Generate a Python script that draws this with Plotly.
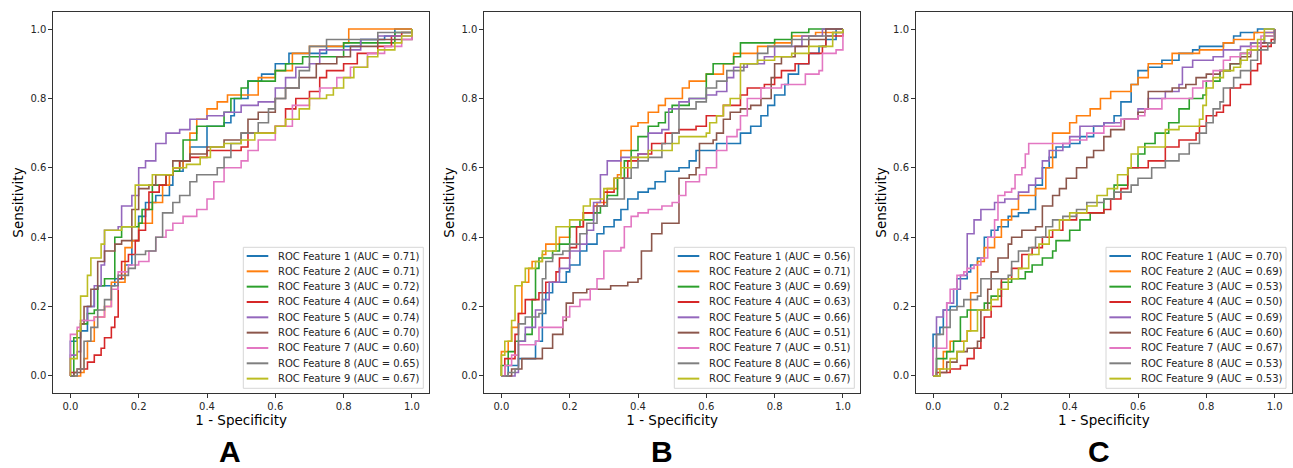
import plotly.graph_objects as go

# ---------------- data ----------------
FEATURES = [f"ROC Feature {i}" for i in range(1, 10)]
COLORS = ["#1f77b4", "#ff7f0e", "#2ca02c", "#d62728", "#9467bd",
          "#8c564b", "#e377c2", "#7f7f7f", "#bcbd22"]
PANELS = ["A", "B", "C"]
TICKS = [0.0, 0.2, 0.4, 0.6, 0.8, 1.0]
TICK_TEXT = ["0.0", "0.2", "0.4", "0.6", "0.8", "1.0"]

AUC_A = [0.71, 0.71, 0.72, 0.64, 0.74, 0.70, 0.60, 0.65, 0.67]
AUC_B = [0.56, 0.71, 0.69, 0.63, 0.66, 0.51, 0.51, 0.66, 0.67]
AUC_C = [0.70, 0.69, 0.53, 0.50, 0.69, 0.60, 0.67, 0.53, 0.53]

# Panel A
A1_fpr = [0, 0, 0.02, 0.05, 0.07, 0.08, 0.13, 0.16, 0.18, 0.2, 0.22, 0.25, 0.29, 0.3, 0.33, 0.35, 0.4, 0.45, 0.47, 0.48, 0.52, 0.56, 0.6, 0.64, 0.7, 0.75, 0.85, 0.92, 0.95, 1]
A1_tpr = [0, 0.1, 0.13, 0.2, 0.25, 0.26, 0.28, 0.32, 0.39, 0.46, 0.5, 0.52, 0.55, 0.59, 0.62, 0.66, 0.72, 0.73, 0.75, 0.8, 0.85, 0.87, 0.9, 0.93, 0.93, 0.95, 0.97, 0.98, 1.0, 1]
A2_fpr = [0, 0.03, 0.04, 0.05, 0.07, 0.1, 0.12, 0.16, 0.18, 0.2, 0.24, 0.27, 0.29, 0.3, 0.33, 0.35, 0.37, 0.4, 0.43, 0.46, 0.5, 0.55, 0.6, 0.65, 0.7, 0.8, 0.815, 1]
A2_tpr = [0, 0.01, 0.05, 0.1, 0.17, 0.2, 0.27, 0.37, 0.39, 0.44, 0.5, 0.55, 0.58, 0.6, 0.62, 0.7, 0.74, 0.77, 0.79, 0.81, 0.81, 0.86, 0.88, 0.93, 0.95, 0.96, 1.0, 1]
A3_fpr = [0, 0.01, 0.03, 0.05, 0.07, 0.08, 0.1, 0.13, 0.15, 0.2, 0.21, 0.24, 0.28, 0.3, 0.32, 0.33, 0.37, 0.45, 0.47, 0.5, 0.52, 0.6, 0.63, 0.68, 0.8, 0.95, 1]
A3_tpr = [0, 0.11, 0.15, 0.18, 0.19, 0.26, 0.28, 0.4, 0.43, 0.44, 0.48, 0.55, 0.58, 0.59, 0.62, 0.68, 0.72, 0.76, 0.8, 0.83, 0.85, 0.88, 0.9, 0.92, 0.96, 0.99, 1]
A4_fpr = [0, 0, 0.02, 0.05, 0.07, 0.09, 0.1, 0.12, 0.13, 0.14, 0.15, 0.17, 0.19, 0.2, 0.22, 0.23, 0.26, 0.28, 0.3, 0.32, 0.35, 0.4, 0.5, 0.52, 0.6, 0.63, 0.66, 0.7, 0.73, 0.75, 0.8, 0.84, 0.9, 0.94, 0.97, 1]
A4_tpr = [0, 0.01, 0.02, 0.04, 0.06, 0.08, 0.11, 0.14, 0.17, 0.28, 0.33, 0.35, 0.39, 0.42, 0.48, 0.53, 0.55, 0.58, 0.6, 0.62, 0.63, 0.65, 0.66, 0.7, 0.72, 0.77, 0.8, 0.82, 0.86, 0.88, 0.9, 0.93, 0.95, 0.98, 0.99, 1]
A5_fpr = [0, 0, 0.02, 0.03, 0.05, 0.07, 0.09, 0.1, 0.14, 0.15, 0.18, 0.2, 0.22, 0.25, 0.28, 0.32, 0.35, 0.4, 0.45, 0.5, 0.55, 0.6, 0.63, 0.66, 0.7, 0.73, 0.85, 0.9, 1]
A5_tpr = [0, 0.06, 0.07, 0.16, 0.2, 0.26, 0.32, 0.42, 0.43, 0.49, 0.52, 0.6, 0.62, 0.67, 0.7, 0.71, 0.74, 0.75, 0.76, 0.78, 0.79, 0.83, 0.86, 0.89, 0.9, 0.94, 0.97, 0.98, 1]
A6_fpr = [0, 0.01, 0.03, 0.04, 0.06, 0.08, 0.1, 0.13, 0.15, 0.18, 0.2, 0.23, 0.25, 0.3, 0.35, 0.4, 0.45, 0.5, 0.52, 0.55, 0.6, 0.63, 0.67, 0.72, 0.78, 0.82, 0.9, 1]
A6_tpr = [0, 0.01, 0.15, 0.2, 0.25, 0.33, 0.36, 0.38, 0.39, 0.48, 0.54, 0.55, 0.58, 0.62, 0.64, 0.66, 0.68, 0.7, 0.74, 0.76, 0.8, 0.83, 0.86, 0.9, 0.92, 0.95, 0.97, 1]
A7_fpr = [0, 0, 0.02, 0.03, 0.07, 0.1, 0.12, 0.14, 0.17, 0.2, 0.23, 0.25, 0.28, 0.3, 0.33, 0.37, 0.4, 0.42, 0.45, 0.5, 0.52, 0.55, 0.6, 0.65, 0.7, 0.73, 0.78, 0.82, 0.87, 0.92, 0.97, 1]
A7_tpr = [0, 0.12, 0.14, 0.16, 0.17, 0.2, 0.25, 0.3, 0.32, 0.33, 0.36, 0.4, 0.42, 0.44, 0.46, 0.48, 0.51, 0.56, 0.6, 0.62, 0.65, 0.68, 0.72, 0.78, 0.8, 0.83, 0.86, 0.89, 0.93, 0.95, 0.97, 1]
A8_fpr = [0, 0.02, 0.04, 0.06, 0.08, 0.1, 0.12, 0.14, 0.17, 0.19, 0.22, 0.25, 0.27, 0.3, 0.32, 0.35, 0.37, 0.43, 0.45, 0.47, 0.5, 0.55, 0.58, 0.6, 0.63, 0.67, 0.7, 0.75, 0.9, 1]
A8_tpr = [0, 0.02, 0.1, 0.14, 0.19, 0.22, 0.26, 0.29, 0.31, 0.35, 0.36, 0.4, 0.47, 0.5, 0.52, 0.56, 0.58, 0.6, 0.63, 0.67, 0.7, 0.73, 0.77, 0.8, 0.83, 0.88, 0.95, 0.97, 0.99, 1]
A9_fpr = [0, 0, 0.02, 0.03, 0.05, 0.06, 0.09, 0.1, 0.15, 0.19, 0.24, 0.3, 0.34, 0.38, 0.41, 0.45, 0.5, 0.54, 0.6, 0.63, 0.67, 0.7, 0.75, 0.77, 0.8, 0.83, 0.87, 0.9, 0.95, 0.97, 1]
A9_tpr = [0, 0.05, 0.13, 0.23, 0.29, 0.34, 0.38, 0.42, 0.43, 0.55, 0.58, 0.6, 0.61, 0.63, 0.66, 0.67, 0.68, 0.7, 0.72, 0.74, 0.77, 0.8, 0.81, 0.83, 0.86, 0.89, 0.92, 0.94, 0.96, 0.98, 1]

# Panel B
B1_fpr = [0, 0.02, 0.05, 0.09, 0.1, 0.12, 0.13, 0.15, 0.19, 0.2, 0.23, 0.25, 0.28, 0.3, 0.33, 0.35, 0.37, 0.4, 0.43, 0.45, 0.48, 0.52, 0.55, 0.57, 0.6, 0.63, 0.68, 0.7, 0.73, 0.76, 0.78, 0.8, 0.83, 0.84, 0.87, 0.9, 0.93, 0.95, 0.98, 1]
B1_tpr = [0, 0.03, 0.05, 0.05, 0.1, 0.18, 0.24, 0.27, 0.3, 0.32, 0.36, 0.38, 0.41, 0.43, 0.45, 0.48, 0.51, 0.53, 0.54, 0.56, 0.59, 0.6, 0.62, 0.65, 0.65, 0.67, 0.67, 0.7, 0.72, 0.75, 0.78, 0.81, 0.84, 0.87, 0.9, 0.93, 0.95, 0.97, 1.0, 1]
B2_fpr = [0, 0, 0.02, 0.03, 0.05, 0.06, 0.08, 0.09, 0.12, 0.13, 0.17, 0.2, 0.24, 0.28, 0.31, 0.34, 0.35, 0.38, 0.4, 0.43, 0.46, 0.48, 0.53, 0.55, 0.6, 0.65, 0.68, 0.75, 0.8, 0.85, 0.92, 1]
B2_tpr = [0, 0.07, 0.1, 0.14, 0.18, 0.27, 0.31, 0.33, 0.35, 0.38, 0.4, 0.43, 0.47, 0.5, 0.54, 0.58, 0.65, 0.72, 0.73, 0.76, 0.78, 0.8, 0.83, 0.85, 0.87, 0.9, 0.93, 0.95, 0.96, 0.98, 0.99, 1]
B3_fpr = [0, 0, 0.02, 0.04, 0.07, 0.09, 0.1, 0.11, 0.15, 0.17, 0.2, 0.23, 0.27, 0.29, 0.31, 0.34, 0.36, 0.38, 0.4, 0.43, 0.46, 0.48, 0.5, 0.55, 0.6, 0.62, 0.68, 0.7, 0.8, 0.85, 0.9, 1]
B3_tpr = [0, 0.03, 0.07, 0.1, 0.12, 0.22, 0.31, 0.34, 0.36, 0.38, 0.43, 0.45, 0.47, 0.49, 0.52, 0.57, 0.62, 0.65, 0.69, 0.72, 0.73, 0.76, 0.78, 0.8, 0.87, 0.9, 0.92, 0.96, 0.97, 0.99, 1.0, 1]
B4_fpr = [0, 0.01, 0.04, 0.05, 0.07, 0.11, 0.13, 0.16, 0.17, 0.2, 0.22, 0.24, 0.27, 0.3, 0.33, 0.37, 0.4, 0.44, 0.48, 0.52, 0.57, 0.6, 0.65, 0.7, 0.72, 0.77, 0.8, 0.82, 0.86, 0.9, 0.94, 0.95, 1]
B4_tpr = [0, 0.05, 0.12, 0.18, 0.22, 0.24, 0.27, 0.3, 0.34, 0.37, 0.43, 0.47, 0.49, 0.53, 0.57, 0.62, 0.64, 0.67, 0.7, 0.71, 0.72, 0.75, 0.78, 0.81, 0.83, 0.84, 0.86, 0.88, 0.9, 0.93, 0.95, 0.98, 1]
B5_fpr = [0, 0.04, 0.05, 0.07, 0.1, 0.12, 0.14, 0.17, 0.2, 0.23, 0.25, 0.27, 0.29, 0.31, 0.35, 0.4, 0.43, 0.47, 0.49, 0.52, 0.55, 0.6, 0.63, 0.66, 0.68, 0.72, 0.77, 0.8, 0.88, 0.94, 1]
B5_tpr = [0, 0.01, 0.1, 0.14, 0.19, 0.22, 0.27, 0.31, 0.36, 0.38, 0.42, 0.5, 0.58, 0.62, 0.63, 0.64, 0.7, 0.71, 0.77, 0.79, 0.8, 0.81, 0.82, 0.86, 0.89, 0.9, 0.92, 0.95, 0.98, 1.0, 1]
B6_fpr = [0, 0.03, 0.06, 0.11, 0.12, 0.15, 0.18, 0.19, 0.21, 0.25, 0.32, 0.37, 0.4, 0.41, 0.44, 0.47, 0.51, 0.52, 0.55, 0.57, 0.58, 0.62, 0.63, 0.65, 0.67, 0.7, 0.73, 0.76, 0.79, 0.8, 0.82, 0.86, 0.9, 0.95, 1]
B6_tpr = [0, 0.02, 0.05, 0.05, 0.08, 0.12, 0.16, 0.21, 0.24, 0.25, 0.26, 0.27, 0.28, 0.36, 0.41, 0.44, 0.44, 0.57, 0.58, 0.6, 0.67, 0.68, 0.7, 0.74, 0.76, 0.77, 0.78, 0.8, 0.86, 0.9, 0.92, 0.95, 0.97, 1.0, 1]
B7_fpr = [0, 0.01, 0.03, 0.05, 0.1, 0.11, 0.17, 0.18, 0.2, 0.23, 0.26, 0.28, 0.3, 0.35, 0.36, 0.38, 0.4, 0.43, 0.47, 0.5, 0.52, 0.54, 0.58, 0.6, 0.63, 0.66, 0.69, 0.7, 0.72, 0.76, 0.8, 0.82, 0.88, 0.89, 0.93, 0.94, 0.98, 1]
B7_tpr = [0, 0.03, 0.06, 0.09, 0.1, 0.14, 0.14, 0.17, 0.2, 0.22, 0.25, 0.28, 0.36, 0.37, 0.43, 0.46, 0.47, 0.48, 0.49, 0.5, 0.52, 0.56, 0.58, 0.6, 0.65, 0.69, 0.71, 0.75, 0.8, 0.83, 0.83, 0.84, 0.84, 0.87, 0.88, 0.93, 0.94, 1]
B8_fpr = [0, 0.02, 0.04, 0.05, 0.07, 0.11, 0.12, 0.13, 0.15, 0.18, 0.2, 0.23, 0.25, 0.28, 0.31, 0.36, 0.38, 0.4, 0.43, 0.47, 0.5, 0.52, 0.57, 0.6, 0.63, 0.66, 0.71, 0.75, 0.78, 0.85, 0.9, 0.97, 1]
B8_tpr = [0, 0.01, 0.02, 0.15, 0.17, 0.18, 0.28, 0.33, 0.35, 0.36, 0.38, 0.41, 0.44, 0.49, 0.51, 0.57, 0.6, 0.62, 0.63, 0.67, 0.7, 0.77, 0.79, 0.83, 0.85, 0.88, 0.9, 0.93, 0.95, 0.97, 0.98, 0.99, 1]
B9_fpr = [0, 0, 0.01, 0.03, 0.04, 0.06, 0.07, 0.1, 0.12, 0.16, 0.2, 0.24, 0.26, 0.3, 0.33, 0.35, 0.38, 0.43, 0.5, 0.52, 0.6, 0.61, 0.63, 0.65, 0.67, 0.7, 0.75, 0.8, 0.85, 0.9, 0.97, 1]
B9_tpr = [0, 0.06, 0.1, 0.16, 0.26, 0.27, 0.31, 0.33, 0.36, 0.43, 0.45, 0.49, 0.51, 0.54, 0.57, 0.6, 0.63, 0.65, 0.67, 0.69, 0.7, 0.73, 0.75, 0.78, 0.8, 0.9, 0.91, 0.92, 0.93, 0.95, 0.99, 1]

# Panel C
C1_fpr = [0, 0, 0.02, 0.03, 0.05, 0.07, 0.1, 0.11, 0.13, 0.15, 0.17, 0.19, 0.22, 0.25, 0.28, 0.3, 0.32, 0.34, 0.36, 0.4, 0.43, 0.47, 0.5, 0.53, 0.55, 0.58, 0.6, 0.63, 0.67, 0.72, 0.76, 0.78, 0.85, 0.88, 0.9, 0.95, 1]
C1_tpr = [0, 0.12, 0.14, 0.19, 0.2, 0.28, 0.3, 0.32, 0.34, 0.4, 0.42, 0.43, 0.46, 0.47, 0.48, 0.55, 0.6, 0.63, 0.66, 0.67, 0.69, 0.72, 0.73, 0.75, 0.79, 0.84, 0.88, 0.89, 0.91, 0.93, 0.94, 0.95, 0.96, 0.98, 0.99, 1.0, 1]
C2_fpr = [0, 0.01, 0.03, 0.05, 0.07, 0.1, 0.11, 0.13, 0.15, 0.18, 0.2, 0.23, 0.25, 0.3, 0.33, 0.35, 0.4, 0.42, 0.46, 0.49, 0.52, 0.58, 0.6, 0.63, 0.7, 0.78, 0.85, 0.88, 0.94, 1]
C2_tpr = [0, 0.02, 0.07, 0.1, 0.1, 0.13, 0.24, 0.33, 0.37, 0.4, 0.45, 0.48, 0.52, 0.54, 0.6, 0.7, 0.73, 0.75, 0.77, 0.8, 0.82, 0.84, 0.86, 0.9, 0.93, 0.94, 0.96, 0.97, 0.99, 1]
C3_fpr = [0, 0.01, 0.04, 0.06, 0.08, 0.1, 0.15, 0.17, 0.2, 0.23, 0.27, 0.29, 0.32, 0.35, 0.36, 0.4, 0.43, 0.46, 0.5, 0.53, 0.57, 0.6, 0.62, 0.65, 0.69, 0.72, 0.75, 0.79, 0.8, 0.84, 0.87, 0.9, 0.93, 0.97, 1]
C3_tpr = [0, 0.05, 0.07, 0.1, 0.17, 0.19, 0.21, 0.23, 0.27, 0.28, 0.3, 0.32, 0.34, 0.36, 0.39, 0.42, 0.45, 0.47, 0.51, 0.55, 0.6, 0.64, 0.67, 0.7, 0.73, 0.77, 0.8, 0.81, 0.85, 0.88, 0.9, 0.93, 0.96, 0.98, 1]
C4_fpr = [0, 0.01, 0.05, 0.08, 0.1, 0.12, 0.14, 0.15, 0.17, 0.2, 0.23, 0.26, 0.29, 0.32, 0.35, 0.38, 0.42, 0.5, 0.52, 0.55, 0.57, 0.6, 0.63, 0.67, 0.68, 0.72, 0.77, 0.78, 0.8, 0.83, 0.85, 0.87, 0.9, 0.93, 0.95, 0.96, 0.99, 1]
C4_tpr = [0, 0.01, 0.02, 0.03, 0.05, 0.08, 0.11, 0.17, 0.2, 0.28, 0.31, 0.35, 0.37, 0.4, 0.42, 0.45, 0.47, 0.48, 0.51, 0.54, 0.6, 0.6, 0.62, 0.62, 0.66, 0.68, 0.7, 0.72, 0.75, 0.76, 0.78, 0.83, 0.84, 0.88, 0.9, 0.95, 0.97, 1]
C5_fpr = [0, 0, 0.01, 0.03, 0.04, 0.06, 0.08, 0.1, 0.12, 0.14, 0.18, 0.21, 0.25, 0.28, 0.3, 0.32, 0.34, 0.38, 0.4, 0.43, 0.5, 0.55, 0.6, 0.63, 0.68, 0.72, 0.73, 0.76, 0.82, 0.85, 0.9, 0.93, 0.97, 1]
C5_tpr = [0, 0.08, 0.17, 0.19, 0.21, 0.25, 0.29, 0.41, 0.45, 0.48, 0.5, 0.51, 0.53, 0.55, 0.57, 0.62, 0.65, 0.67, 0.69, 0.72, 0.73, 0.74, 0.77, 0.8, 0.82, 0.84, 0.89, 0.91, 0.92, 0.94, 0.95, 0.96, 0.99, 1]
C6_fpr = [0, 0.02, 0.04, 0.07, 0.1, 0.13, 0.14, 0.16, 0.17, 0.19, 0.22, 0.23, 0.26, 0.3, 0.32, 0.35, 0.37, 0.39, 0.42, 0.45, 0.47, 0.5, 0.52, 0.56, 0.6, 0.62, 0.63, 0.7, 0.74, 0.77, 0.8, 0.84, 0.87, 0.9, 0.93, 0.96, 1]
C6_tpr = [0, 0.01, 0.04, 0.07, 0.08, 0.1, 0.19, 0.25, 0.3, 0.34, 0.38, 0.4, 0.42, 0.43, 0.49, 0.52, 0.54, 0.57, 0.6, 0.63, 0.65, 0.69, 0.71, 0.74, 0.76, 0.77, 0.82, 0.83, 0.84, 0.86, 0.87, 0.88, 0.9, 0.92, 0.94, 0.96, 1]
C7_fpr = [0, 0, 0.04, 0.04, 0.05, 0.07, 0.09, 0.1, 0.12, 0.14, 0.16, 0.18, 0.19, 0.21, 0.23, 0.24, 0.26, 0.27, 0.28, 0.35, 0.4, 0.45, 0.5, 0.55, 0.6, 0.62, 0.67, 0.75, 0.76, 0.79, 0.82, 0.85, 0.87, 0.9, 0.93, 0.96, 1]
C7_tpr = [0, 0.08, 0.08, 0.21, 0.25, 0.29, 0.3, 0.31, 0.32, 0.34, 0.4, 0.45, 0.52, 0.53, 0.54, 0.58, 0.6, 0.64, 0.67, 0.67, 0.68, 0.7, 0.72, 0.74, 0.75, 0.77, 0.8, 0.8, 0.83, 0.85, 0.88, 0.91, 0.92, 0.93, 0.95, 0.98, 1]
C8_fpr = [0, 0.01, 0.01, 0.03, 0.05, 0.07, 0.09, 0.13, 0.14, 0.22, 0.23, 0.25, 0.28, 0.3, 0.33, 0.35, 0.38, 0.42, 0.45, 0.5, 0.53, 0.58, 0.6, 0.64, 0.68, 0.72, 0.75, 0.78, 0.8, 0.82, 0.84, 0.85, 0.88, 0.9, 0.93, 0.95, 0.98, 1]
C8_tpr = [0, 0.02, 0.12, 0.14, 0.19, 0.2, 0.22, 0.23, 0.28, 0.29, 0.33, 0.36, 0.37, 0.4, 0.43, 0.45, 0.46, 0.48, 0.5, 0.51, 0.53, 0.55, 0.57, 0.6, 0.62, 0.64, 0.67, 0.7, 0.73, 0.77, 0.79, 0.83, 0.86, 0.88, 0.91, 0.94, 0.96, 1]
C9_fpr = [0, 0.02, 0.05, 0.07, 0.09, 0.1, 0.13, 0.17, 0.19, 0.22, 0.25, 0.28, 0.31, 0.34, 0.37, 0.4, 0.45, 0.48, 0.51, 0.54, 0.57, 0.58, 0.6, 0.65, 0.68, 0.72, 0.78, 0.79, 0.8, 0.82, 0.85, 0.88, 0.9, 0.92, 0.95, 0.97, 1]
C9_tpr = [0, 0.02, 0.05, 0.07, 0.1, 0.13, 0.19, 0.22, 0.25, 0.28, 0.31, 0.35, 0.38, 0.42, 0.45, 0.47, 0.49, 0.52, 0.54, 0.58, 0.6, 0.64, 0.66, 0.66, 0.71, 0.72, 0.74, 0.78, 0.83, 0.86, 0.88, 0.89, 0.91, 0.94, 0.97, 1.0, 1]

CURVES = {
    "A": [(A1_fpr, A1_tpr), (A2_fpr, A2_tpr), (A3_fpr, A3_tpr), (A4_fpr, A4_tpr), (A5_fpr, A5_tpr),
          (A6_fpr, A6_tpr), (A7_fpr, A7_tpr), (A8_fpr, A8_tpr), (A9_fpr, A9_tpr)],
    "B": [(B1_fpr, B1_tpr), (B2_fpr, B2_tpr), (B3_fpr, B3_tpr), (B4_fpr, B4_tpr), (B5_fpr, B5_tpr),
          (B6_fpr, B6_tpr), (B7_fpr, B7_tpr), (B8_fpr, B8_tpr), (B9_fpr, B9_tpr)],
    "C": [(C1_fpr, C1_tpr), (C2_fpr, C2_tpr), (C3_fpr, C3_tpr), (C4_fpr, C4_tpr), (C5_fpr, C5_tpr),
          (C6_fpr, C6_tpr), (C7_fpr, C7_tpr), (C8_fpr, C8_tpr), (C9_fpr, C9_tpr)],
}
AUCS = {"A": AUC_A, "B": AUC_B, "C": AUC_C}

# ---------------- layout geometry (pixels) ----------------
W, H = 1293, 468
PLOT_X = {"A": (53.3, 429.0), "B": (484.3, 860.0), "C": (916.0, 1291.7)}
PLOT_TOP, PLOT_BOTTOM = 11.7, 393.3
LETTER_X = {"A": 229.7, "B": 661.7, "C": 1099.3}
FONT = "DejaVu Sans, Verdana, sans-serif"
INK = "#262626"


def px(x):
    return x / W


def py(y):
    return 1 - y / H


fig = go.Figure()
shapes = []
annotations = []
layout_axes = {}

for k, p in enumerate(PANELS):
    sfx = "" if k == 0 else str(k + 1)
    xa, ya = "x" + sfx, "y" + sfx
    for i, (fpr, tpr) in enumerate(CURVES[p]):
        fig.add_trace(go.Scatter(
            x=fpr, y=tpr, mode="lines", line=dict(color=COLORS[i], width=1.6, shape="hv"),
            name=f"{FEATURES[i]} (AUC = {AUCS[p][i]:.2f})", showlegend=False,
            xaxis=xa, yaxis=ya, hoverinfo="name"))

    x0, x1 = PLOT_X[p]
    axis_common = dict(
        range=[-0.05, 1.05], showgrid=False, zeroline=False,
        showline=True, mirror=True, linecolor="#333333", linewidth=1,
        ticks="outside", ticklen=4, tickwidth=1, tickcolor="#333333",
        tickvals=TICKS, ticktext=TICK_TEXT,
        tickfont=dict(family=FONT, size=10, color=INK),
    )
    layout_axes["xaxis" + sfx] = dict(
        axis_common, domain=[px(x0), px(x1)], anchor=ya,
        title=dict(text="1 - Specificity", font=dict(family=FONT, size=13.5, color="#000000"), standoff=4))
    layout_axes["yaxis" + sfx] = dict(
        axis_common, domain=[py(PLOT_BOTTOM), py(PLOT_TOP)], anchor=xa,
        title=dict(text="Sensitivity", font=dict(family=FONT, size=13.5, color="#000000"), standoff=3))

    # panel letter
    annotations.append(dict(
        x=px(LETTER_X[p]), y=py(451), xref="paper", yref="paper", text=p, showarrow=False,
        xanchor="center", yanchor="middle",
        font=dict(family="Liberation Sans, Arial, sans-serif", size=30, color="#000000", weight="bold")))

    # legend box (matplotlib-style)
    bx1 = x1 - 5.7
    bx0 = bx1 - 180
    by1 = PLOT_BOTTOM - 5
    by0 = by1 - 141
    shapes.append(dict(type="rect", xref="paper", yref="paper",
                       x0=px(bx0), x1=px(bx1), y0=py(by1), y1=py(by0),
                       line=dict(color="#d6d6d6", width=1), fillcolor="rgba(255,255,255,0.85)", layer="above"))
    for i in range(9):
        yy = by0 + 8.7 + i * 15.33
        shapes.append(dict(type="line", xref="paper", yref="paper",
                           x0=px(bx0 + 3.4), x1=px(bx0 + 25), y0=py(yy), y1=py(yy),
                           line=dict(color=COLORS[i], width=2), layer="above"))
        annotations.append(dict(
            x=px(bx0 + 32.7), y=py(yy), xref="paper", yref="paper",
            text=f"{FEATURES[i]} (AUC = {AUCS[p][i]:.2f})", showarrow=False,
            xanchor="left", yanchor="middle", font=dict(family=FONT, size=10, color=INK)))

fig.update_layout(
    width=W, height=H, autosize=False,
    margin=dict(l=0, r=0, t=0, b=0),
    paper_bgcolor="white", plot_bgcolor="white",
    shapes=shapes, annotations=annotations, showlegend=False,
    **layout_axes,
)

fig.write_html("out.html", config={"displayModeBar": False},
               post_script="document.body.style.margin='0';document.body.style.overflow='hidden';")
